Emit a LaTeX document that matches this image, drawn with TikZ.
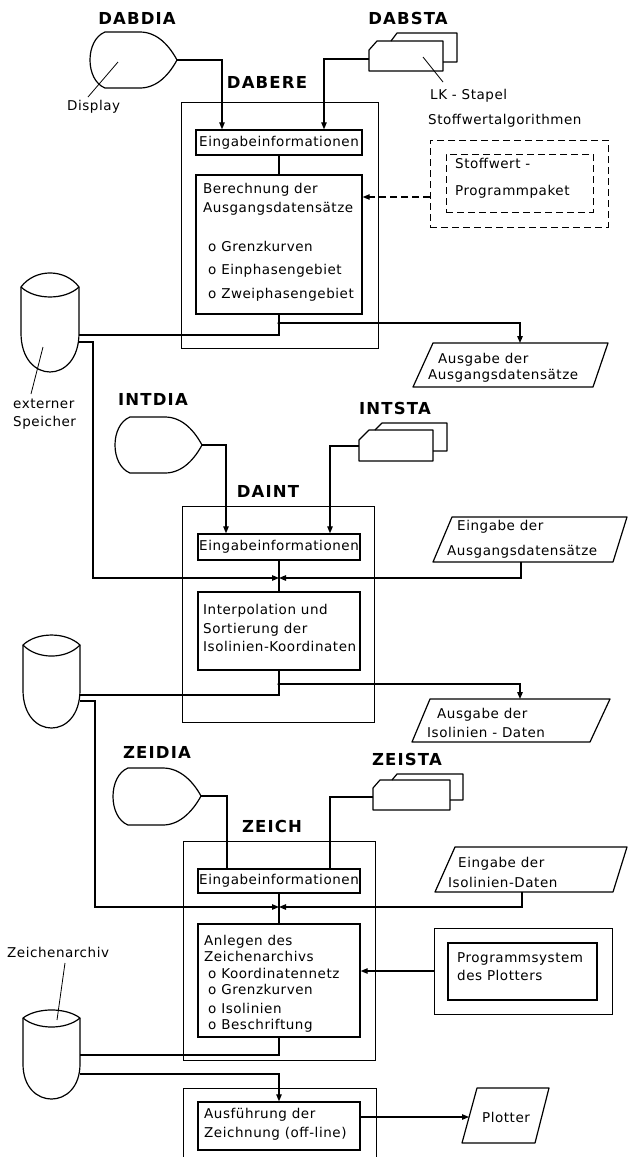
\documentclass[tikz,border=0pt]{standalone}
\usepackage{fontspec}
\setmainfont{DejaVu Sans}
\newfontfamily\labfont[LetterSpace=7]{DejaVu Sans Bold}
\newfontfamily\txtfont[LetterSpace=4]{DejaVu Sans}
\usetikzlibrary{arrows.meta}
\newcommand\bodyf{\txtfont\fontsize{13.5}{17}\selectfont}
\newcommand\bigf{\labfont\fontsize{16.5}{20}\selectfont}
\tikzset{
 box/.style={draw, line width=1.4pt, inner sep=0pt, font=\bodyf},
 frame/.style={draw, line width=0.7pt, inner sep=0pt},
 dbox/.style={draw, line width=0.9pt, inner sep=0pt, dash pattern=on 7pt off 4pt},
 conn/.style={draw, line width=1.2pt},
 arr/.style={conn, -{Triangle[length=7pt,width=5.5pt]}},
 dasharr/.style={arr, dash pattern=on 7pt off 4pt},
 shp/.style={draw, line width=1.2pt, line join=round},
 thinline/.style={draw, line width=0.8pt},
 txt/.style={anchor=base west, inner sep=0pt, font=\bodyf},
 big/.style={inner sep=0pt, font=\bigf},
 dot/.style={circle, fill, inner sep=0pt, minimum size=3.5pt},
}
\begin{document}
\begin{tikzpicture}[x=1pt,y=-1pt]
\fill[white] (0,0) rectangle (628,1157);
\useasboundingbox (0,0) rectangle (628,1157);

% ================= section 1 =================
\node[big] (dabdia) at (137,18) {DABDIA};
\draw[shp] (105,32) -- (140,32) .. controls (158,32) and (170,47) .. (177,60)
  .. controls (170,73) and (158,88) .. (140,88) -- (105,88)
  .. controls (85,80) and (85,40) .. (105,32) -- cycle;
\coordinate (d1tip) at (177,60);
\draw[thinline] (118,62) -- (88,97);
\node[txt] (displ) at (67,110) {Display};

\node[big] (dabsta) at (408,18) {DABSTA};
\draw[shp] (391,41) -- (397,33) -- (457,33) -- (457,62) -- (443,62);
\draw[shp] (369,50) -- (377,41) -- (443,41) -- (443,71) -- (369,71) -- cycle;
\coordinate (s1in) at (369,59);
\draw[thinline] (423,57) -- (443,82);
\node[txt] (lk) at (430,99) {LK - Stapel};
\node[txt] (swa) at (428,124) {Stoffwertalgorithmen};

\node[big] (dabere) at (267,82) {DABERE};
\node[frame, minimum width=197pt, minimum height=246pt] (f1) at (279.5,225) {};
\node[box, minimum width=166pt, minimum height=25pt] (e1) at (279,142.5) {Eingabeinformationen};
\node[box, minimum width=166pt, minimum height=139pt] (b1) at (279,244.5) {};
\node[txt] (b1t1) at (203,193) {Berechnung der};
\node[txt] (b1t2) at (203,212) {Ausgangsdatensätze};
\node[txt] (b1t3) at (208,251) {o Grenzkurven};
\node[txt] (b1t4) at (208,274) {o Einphasengebiet};
\node[txt] (b1t5) at (208,298) {o Zweiphasengebiet};

\node[dbox, minimum width=178pt, minimum height=87pt] (sw0) at (519,183.5) {};
\node[dbox, minimum width=147pt, minimum height=58pt] (sw1) at (519.5,183) {};
\node[txt] (sw1a) at (455,168) {Stoffwert -};
\node[txt] (sw1b) at (455,195) {Programmpaket};
\coordinate (swout) at (430,197);
\draw[dasharr] (swout) -- (swout -| b1.east);

% cylinder 1
\draw[shp] (21,287) .. controls (35,268.3) and (65,268.3) .. (79,287) -- (79,333)
  .. controls (79,385) and (21,385) .. (21,333) -- cycle;
\draw[shp] (21,287) .. controls (35,300.3) and (65,300.3) .. (79,287);
\draw[thinline] (43,347) -- (31,394);
\node[txt] (ext1) at (13,408) {externer};
\node[txt] (ext2) at (13,426) {Speicher};
\coordinate (c1a) at (79,335);
\coordinate (c1b) at (79,342);

% output parallelogram 1
\draw[shp] (433,343) -- (608,343) -- (593,387) -- (413,387) -- cycle;
\coordinate (p1top) at (520,343);
\node[txt] (p1t1) at (438,363) {Ausgabe der};
\node[txt] (p1t2) at (428,379) {Ausgangsdatensätze};

\draw[arr] (d1tip) -| ([xshift=-57pt]e1.north);
\draw[arr] (s1in) -| ([xshift=45pt]e1.north);
\draw[conn] (e1.south) -- (b1.north);
\draw[conn] (b1.south) |- (c1a);
\coordinate (j1) at (279,323);
\node[dot] (dot1) at (j1) {};
\draw[arr] (j1) -| (p1top);

% ================= section 2 =================
\node[big] (intdia) at (153,399) {INTDIA};
\draw[shp] (130,417) -- (165,417) .. controls (183,417) and (195,432) .. (202,445)
  .. controls (195,458) and (183,473) .. (165,473) -- (130,473)
  .. controls (110,465) and (110,425) .. (130,417) -- cycle;
\coordinate (d2tip) at (202,445);

\node[big] (intsta) at (395,408) {INTSTA};
\draw[shp] (375,430) -- (382,423) -- (447,423) -- (447,451) -- (433,451);
\draw[shp] (359,440) -- (369,430) -- (433,430) -- (433,461) -- (359,461) -- cycle;
\coordinate (s2in) at (359,446);

\node[big] (daint) at (268,491) {DAINT};
\node[frame, minimum width=192pt, minimum height=216pt] (f2) at (278,614) {};
\node[box, minimum width=162pt, minimum height=26pt] (e2) at (279,547) {Eingabeinformationen};
\node[box, minimum width=162pt, minimum height=78pt] (b2) at (279,631) {};
\node[txt] (b2t1) at (203,614) {Interpolation und};
\node[txt] (b2t2) at (203,633) {Sortierung der};
\node[txt] (b2t3) at (203,651) {Isolinien-Koordinaten};

\draw[shp] (452,517) -- (627,517) -- (613,562) -- (433,562) -- cycle;
\node[txt] (p2t1) at (457,530) {Eingabe der};
\node[txt] (p2t2) at (447,555) {Ausgangsdatensätze};
\coordinate (p2bot) at (521,562);

\draw[shp] (430,699) -- (610,699) -- (590,742) -- (412,742) -- cycle;
\node[txt] (p3t1) at (437,718) {Ausgabe der};
\node[txt] (p3t2) at (427,737) {Isolinien - Daten};
\coordinate (p3top) at (520,699);

% cylinder 2
\draw[shp] (23,645) .. controls (37,631.7) and (66,631.7) .. (80,645) -- (80,690)
  .. controls (80,740.7) and (23,740.7) .. (23,690) -- cycle;
\draw[shp] (23,645) .. controls (37,659.7) and (66,659.7) .. (80,645);
\coordinate (c2a) at (80,695);
\coordinate (c2b) at (80,701);

\coordinate (j2) at (279,578);
\draw[arr] (c1b) -- ++(14,0) |- (j2);
\draw[arr] (p2bot) |- (j2);
\draw[arr] (d2tip) -| ([xshift=-53pt]e2.north);
\draw[arr] (s2in) -| ([xshift=51pt]e2.north);
\draw[conn] (e2.south) -- (b2.north);
\draw[conn] (b2.south) |- (c2a);
\coordinate (j3) at (279,684);
\node[dot] (dot2) at (j3) {};
\draw[arr] (j3) -| (p3top);

% ================= section 3 =================
\node[big] (zeidia) at (157,752) {ZEIDIA};
\draw[shp] (128,768) -- (163,768) .. controls (181,768) and (194,783) .. (201,796)
  .. controls (194,809) and (181,825) .. (163,825) -- (128,825)
  .. controls (108,817) and (108,776) .. (128,768) -- cycle;
\coordinate (d3tip) at (201,796);

\node[big] (zeista) at (407,759) {ZEISTA};
\draw[shp] (392,780) -- (397,774) -- (463,774) -- (463,800) -- (450,800);
\draw[shp] (373,788) -- (380,780) -- (450,780) -- (450,810) -- (373,810) -- cycle;
\coordinate (s3in) at (373,797);

\node[big] (zeich) at (272,826) {ZEICH};
\node[frame, minimum width=192pt, minimum height=219pt] (f3) at (279,950.5) {};
\node[box, minimum width=162pt, minimum height=24pt] (e3) at (279,881) {Eingabeinformationen};
\node[box, minimum width=162pt, minimum height=113pt] (b3) at (279,980.5) {};
\node[txt] (b3t1) at (204,945) {Anlegen des};
\node[txt] (b3t2) at (204,961) {Zeichenarchivs};
\node[txt] (b3t3) at (208,978) {o Koordinatennetz};
\node[txt] (b3t4) at (208,994) {o Grenzkurven};
\node[txt] (b3t5) at (208,1013) {o Isolinien};
\node[txt] (b3t6) at (208,1029) {o Beschriftung};

\draw[shp] (455,847) -- (627,847) -- (613,892) -- (435,892) -- cycle;
\node[txt] (p4t1) at (458,867) {Eingabe der};
\node[txt] (p4t2) at (448,887) {Isolinien-Daten};
\coordinate (p4bot) at (522,892);

\node[frame, line width=0.9pt, minimum width=178pt, minimum height=86pt] (ps0) at (523,971) {};
\node[box, minimum width=149pt, minimum height=57pt] (ps1) at (522.5,971.5) {};
\node[txt] (ps1a) at (457,962) {Programmsystem};
\node[txt] (ps1b) at (457,980) {des Plotters};

% cylinder 3
\draw[shp] (23,1018) .. controls (37,1007.3) and (66,1007.3) .. (80,1018) -- (80,1064)
  .. controls (80,1110.7) and (23,1110.7) .. (23,1064) -- cycle;
\draw[shp] (23,1018) .. controls (37,1030) and (66,1030) .. (80,1018);
\draw[thinline] (65,963) -- (57,1020);
\node[txt] (zarch) at (7,957) {Zeichenarchiv};
\coordinate (c3a) at (80,1055);
\coordinate (c3b) at (80,1074);

% bottom frame and execution box
\draw[frame] (183,1157) -- (183,1088) -- (376,1088) -- (376,1157);
\node[box, minimum width=162pt, minimum height=48pt] (b4) at (279,1126) {};
\node[txt] (b4t1) at (204,1118) {Ausführung der};
\node[txt] (b4t2) at (204,1137) {Zeichnung (off-line)};

\draw[shp] (477,1088) -- (549,1088) -- (535,1143) -- (462,1143) -- cycle;
\node[inner sep=0pt, font=\bodyf] (plot) at (506,1117) {Plotter};
\coordinate (plotL) at (469,1117);

\coordinate (j4) at (279,907);
\draw[arr] (c2b) -- ++(15,0) |- (j4);
\draw[arr] (p4bot) |- (j4);
\draw[conn] (d3tip) -| ([xshift=-52pt]e3.north);
\draw[conn] (s3in) -| ([xshift=51pt]e3.north);
\draw[conn] (e3.south) -- (b3.north);
\draw[arr] (ps0.west) -- (ps0.west -| b3.east);
\draw[conn] (b3.south) |- (c3a);
\draw[arr] (c3b) -| (b4.north);
\draw[arr] (b4.east |- plotL) -- (plotL);
\end{tikzpicture}
\end{document}
